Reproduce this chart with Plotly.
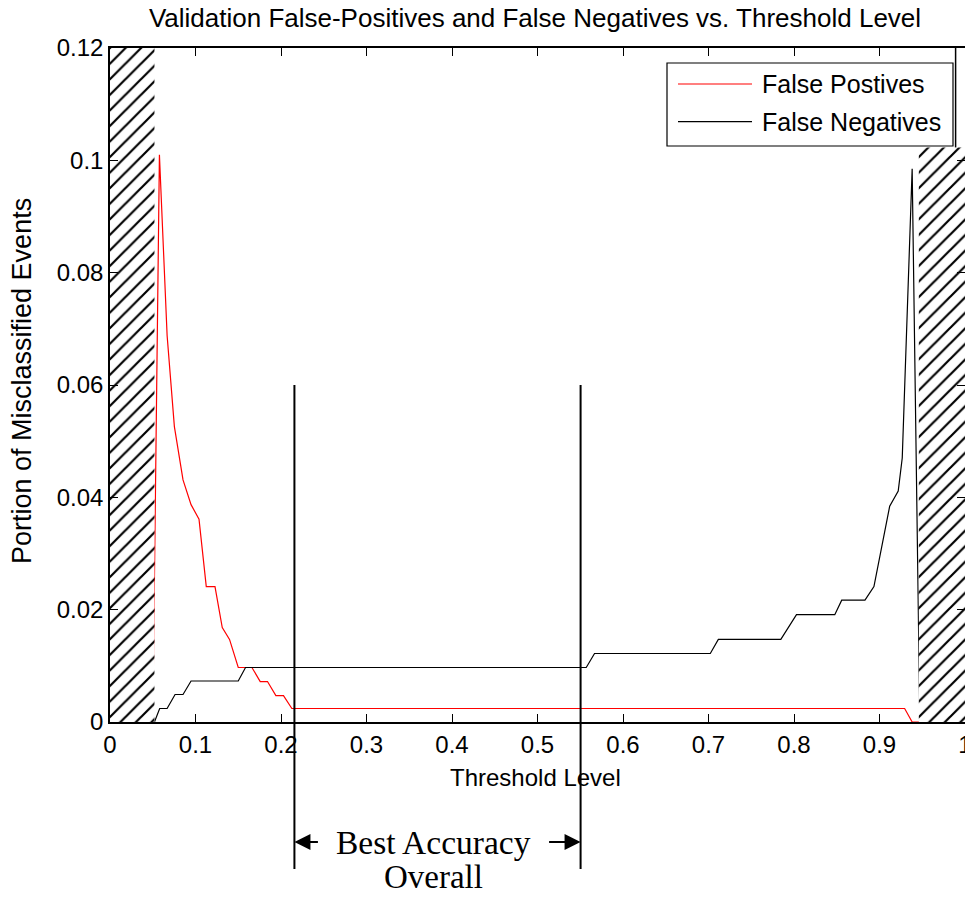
import plotly.graph_objects as go

# ---------------- data ----------------
fp_name = "False Postives"
fn_name = "False Negatives"

fp_x = [0.050, 0.0578, 0.0668, 0.0753, 0.0854, 0.0948, 0.1041, 0.1126, 0.1228, 0.1313,
        0.1398, 0.150, 0.166, 0.1757, 0.1842, 0.194, 0.2029, 0.2127, 0.9294, 0.9382, 0.9472]
fp_y = [0.000, 0.1010, 0.0688, 0.0526, 0.0431, 0.0387, 0.0361, 0.0241, 0.0241, 0.0168,
        0.0147, 0.0097, 0.0097, 0.0072, 0.0072, 0.0047, 0.0047, 0.0024, 0.0024, 0.0, 0.0]

fn_x = [0.052, 0.0581, 0.0668, 0.0761, 0.0854, 0.0948, 0.150, 0.1585, 0.557, 0.5667,
        0.7021, 0.7115, 0.7846, 0.8029, 0.8477, 0.8558, 0.883, 0.8935, 0.9119, 0.9219,
        0.9266, 0.9382, 0.9472]
fn_y = [0.0, 0.0024, 0.0024, 0.0049, 0.0049, 0.0073, 0.0073, 0.0097, 0.0097, 0.0122,
        0.0122, 0.0147, 0.0147, 0.0191, 0.0191, 0.0217, 0.0217, 0.0241, 0.0384, 0.0411,
        0.047, 0.0985, 0.0]

hatch_left_x = [0.0, 0.052]
hatch_left_top = 0.12
hatch_right_x = [0.946, 1.0]
hatch_right_top = 0.1023

best_range = [0.2157, 0.5504]

x_ticks = [0, 0.1, 0.2, 0.3, 0.4, 0.5, 0.6, 0.7, 0.8, 0.9, 1]
y_ticks = [0, 0.02, 0.04, 0.06, 0.08, 0.1, 0.12]

title_text = "Validation False-Positives and False Negatives vs. Threshold Level"
x_title = "Threshold Level"
y_title = "Portion of Misclassified Events"
note_line1 = "Best Accuracy"
note_line2 = "Overall"

# ---------------- layout geometry ----------------
W, H = 965, 897
L, R, T, B = 110, 965, 48, 722


def px(xp):
    return (xp - L) / (R - L)


def py(yp):
    return (B - yp) / (B - T)


SANS = "Liberation Sans, Arial, sans-serif"
SERIF = "Liberation Serif, Times New Roman, serif"

fig = go.Figure()

fig.add_trace(go.Scatter(x=fp_x, y=fp_y, mode="lines", name=fp_name,
                         line=dict(color="#ff0000", width=1.2), showlegend=False))
fig.add_trace(go.Scatter(x=fn_x, y=fn_y, mode="lines", name=fn_name,
                         line=dict(color="#000000", width=1.2), showlegend=False))


def hatch(xr, top):
    return go.Scatter(
        x=[xr[0], xr[1], xr[1], xr[0], xr[0]],
        y=[0, 0, top, top, 0],
        mode="lines", fill="toself", line=dict(width=0, color="rgba(0,0,0,0)"),
        fillcolor="white",
        fillpattern=dict(shape="/", size=11, solidity=0.2, fgcolor="black",
                         bgcolor="white", fgopacity=1),
        showlegend=False, hoverinfo="skip")


fig.add_trace(hatch(hatch_left_x, hatch_left_top))
fig.add_trace(hatch(hatch_right_x, hatch_right_top))

shapes = []
# best accuracy bracket lines
for xv in best_range:
    shapes.append(dict(type="line", xref="x", yref="paper", x0=xv, x1=xv,
                       y0=py(869), y1=0.5, line=dict(color="black", width=2)))
# small line at top right
shapes.append(dict(type="line", xref="x", yref="y", x0=0.989, x1=0.989,
                   y0=hatch_right_top, y1=0.12, line=dict(color="black", width=1.5)))
# legend box
shapes.append(dict(type="rect", xref="paper", yref="paper", x0=px(667), x1=px(953),
                   y0=py(146), y1=py(63), line=dict(color="black", width=1.2),
                   fillcolor="white", layer="above"))
shapes.append(dict(type="line", xref="paper", yref="paper", x0=px(678), x1=px(752),
                   y0=py(84), y1=py(84), line=dict(color="#ff0000", width=1.2), layer="above"))
shapes.append(dict(type="line", xref="paper", yref="paper", x0=px(678), x1=px(752),
                   y0=py(121.7), y1=py(121.7), line=dict(color="#000000", width=1.2), layer="above"))

annotations = [
    dict(text=fp_name, x=px(760), y=py(84), xref="paper", yref="paper", xanchor="left",
         yanchor="middle", showarrow=False, font=dict(family=SANS, size=25, color="black")),
    dict(text=fn_name, x=px(760), y=py(121.7), xref="paper", yref="paper", xanchor="left",
         yanchor="middle", showarrow=False, font=dict(family=SANS, size=25, color="black")),
    dict(text=x_title, x=px(535), y=py(777), xref="paper", yref="paper", xanchor="center",
         yanchor="middle", showarrow=False, font=dict(family=SANS, size=24, color="black")),
    dict(text=y_title, x=px(22), y=py(381), xref="paper", yref="paper", xanchor="center",
         yanchor="middle", textangle=-90, showarrow=False,
         font=dict(family=SANS, size=27, color="black")),
    dict(text=note_line1, x=px(433), y=py(842), xref="paper", yref="paper", xanchor="center",
         yanchor="middle", showarrow=False, font=dict(family=SERIF, size=33.5, color="black")),
    dict(text=note_line2, x=px(433), y=py(896), xref="paper", yref="paper", xanchor="center",
         yanchor="bottom", borderpad=0, showarrow=False,
         font=dict(family=SERIF, size=33, color="black")),
    # arrows
    dict(text="", x=best_range[0], y=py(842), xref="x", yref="paper", ax=25, ay=0,
         showarrow=True, arrowhead=2, arrowsize=1.6, arrowwidth=2, arrowcolor="black"),
    dict(text="", x=best_range[1], y=py(842), xref="x", yref="paper", ax=-33, ay=0,
         showarrow=True, arrowhead=2, arrowsize=1.6, arrowwidth=2, arrowcolor="black"),
]

fig.update_layout(
    width=W, height=H,
    margin=dict(l=L, r=W - R, t=T, b=H - B, pad=0, autoexpand=False),
    paper_bgcolor="white", plot_bgcolor="white",
    font=dict(family=SANS, size=24, color="black"),
    title=dict(text=title_text, x=535 / W, xref="container", xanchor="center",
               y=1 - 18 / H, yref="container", yanchor="middle",
               font=dict(family=SANS, size=26, color="black")),
    shapes=shapes, annotations=annotations, showlegend=False,
)

axis_common = dict(showgrid=False, zeroline=False, showline=True, linecolor="black",
                   linewidth=1.5, mirror="ticks", ticks="inside", ticklen=8, tickwidth=1.2,
                   tickcolor="black", automargin=False,
                   tickfont=dict(family=SANS, size=24, color="black"))
fig.update_xaxes(range=[0, 1], tickvals=x_ticks, ticktext=[f"{v:g}" for v in x_ticks],
                 ticklabeloverflow="allow", **axis_common)
fig.update_yaxes(range=[0, 0.12], tickvals=y_ticks, ticktext=[f"{v:g}" for v in y_ticks], **axis_common)

fig.write_html("out.html")
